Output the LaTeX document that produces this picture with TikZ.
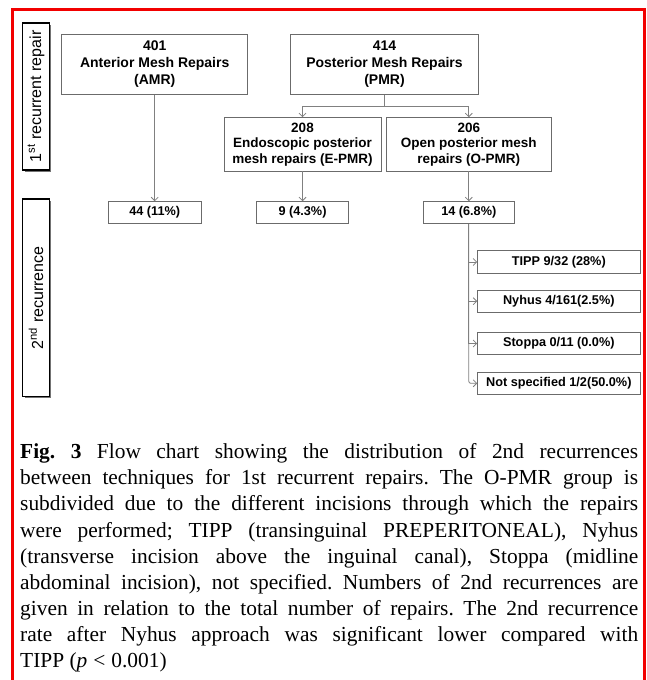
\documentclass[tikz,border=0pt]{standalone}
\usepackage{fontspec}
\usepackage{graphicx}
\setmainfont{Liberation Serif}
\newfontfamily\arialf{Liberation Sans}
\usetikzlibrary{arrows.meta,shadows}
\definecolor{boxc}{gray}{0.42}
\definecolor{linec}{gray}{0.5}
\definecolor{framered}{rgb}{0.95,0,0}
\tikzset{
  fbox/.style={draw=boxc, line width=0.9pt, fill=white, align=center, inner sep=0pt,
    font=\arialf\bfseries\fontsize{14}{16.7}\selectfont},
  subbox/.style={fbox, font=\arialf\bfseries\fontsize{13.5}{15.5}\selectfont},
  numbox/.style={fbox, font=\arialf\bfseries\fontsize{12.7}{15}\selectfont},
  sidebox/.style={draw=black, line width=1.3pt, fill=white, inner sep=0pt,
    font=\arialf\fontsize{16}{19}\selectfont,
    drop shadow={shadow xshift=1.8pt, shadow yshift=-1.8pt, fill=black!55, opacity=1}},
  conn/.style={draw=linec, line width=0.8pt, -{Straight Barb[length=3.5pt,width=7pt]}},
  plain/.style={draw=linec, line width=0.8pt},
}
\begin{document}
\begin{tikzpicture}[x=1pt,y=-1pt]
\useasboundingbox (0,0) rectangle (646,680);
\fill[white] (0,0) rectangle (646,680);
% red frame
\draw[framered, line width=2.6pt] (12.5,700) -- (12.5,9.5) -- (644.5,9.5) -- (644.5,700);

% side labels
\node[sidebox, minimum width=26.6pt, minimum height=147pt] (side1) at (36,96.5)
  {\rotatebox{90}{1\textsuperscript{st} recurrent repair}};
\node[sidebox, minimum width=26.6pt, minimum height=197.7pt] (side2) at (36,297.8)
  {\rotatebox{90}{2\textsuperscript{nd} recurrence}};

% first level
\node[fbox, minimum width=186pt, minimum height=59.7pt] (amr) at (154.7,64.2)
  {401\\Anterior Mesh Repairs\\(AMR)};
\node[fbox, minimum width=187.6pt, minimum height=59.7pt] (pmr) at (384.5,64.2)
  {414\\Posterior Mesh Repairs\\(PMR)};

% second level
\node[subbox, minimum width=157pt, minimum height=53.3pt] (epmr) at (302.5,144.3)
  {208\\Endoscopic posterior\\mesh repairs (E-PMR)};
\node[subbox, minimum width=165.7pt, minimum height=53.3pt] (opmr) at (468.8,144.3)
  {206\\Open posterior mesh\\repairs (O-PMR)};

% recurrences
\node[numbox, minimum width=92.7pt, minimum height=21.6pt] (n44) at (154.7,212.5) {44 (11\%)};
\node[numbox, minimum width=91.6pt, minimum height=21.6pt] (n9) at (302.5,212.5) {9 (4.3\%)};
\node[numbox, minimum width=91.6pt, minimum height=21.6pt] (n14) at (468.8,212.5) {14 (6.8\%)};

% O-PMR subgroups
\node[numbox, minimum width=162.3pt, minimum height=22.3pt] (tipp) at (558.8,262) {TIPP 9/32 (28\%)};
\node[numbox, minimum width=162.3pt, minimum height=21.5pt] (nyhus) at (558.8,301.2) {Nyhus 4/161(2.5\%)};
\node[numbox, minimum width=162.3pt, minimum height=21.6pt] (stoppa) at (558.8,343.5) {Stoppa 0/11 (0.0\%)};
\node[numbox, minimum width=162.3pt, minimum height=21.4pt] (notspec) at (558.8,383.3) {Not specified 1/2(50.0\%)};

% connectors
\coordinate (j) at (384.5,106.7);
\draw[plain] (pmr.south) -- (j);
\draw[conn] (j) -| (epmr.north);
\draw[conn] (j) -| (opmr.north);
\draw[conn] (amr.south) -- (n44.north);
\draw[conn] (epmr.south) -- (n9.north);
\draw[conn] (opmr.south) -- (n14.north);
\draw[conn] (n14.south) |- (tipp.west);
\draw[conn] (n14.south) |- (nyhus.west);
\draw[conn] (n14.south) |- (stoppa.west);
\draw[conn, rounded corners=2pt] (n14.south) |- (notspec.west);

% caption
\node[anchor=north west, text width=618pt, inner sep=0pt, align=justify,
      font=\fontsize{21.4}{26.1}\selectfont] (cap) at (20,443.5)
{\frenchspacing\hyphenpenalty=10000\relax\emergencystretch=30pt\relax
\textbf{Fig.~3} Flow chart showing the distribution of 2nd recurrences\linebreak
between techniques for 1st recurrent repairs. The O-PMR group is\linebreak
subdivided due to the different incisions through which the repairs\linebreak
were performed; TIPP (transinguinal PREPERITONEAL), Nyhus\linebreak
(transverse incision above the inguinal canal), Stoppa (midline\linebreak
abdominal incision), not specified. Numbers of 2nd recurrences are\linebreak
given in relation to the total number of repairs. The 2nd recurrence\linebreak
rate after Nyhus approach was significant lower compared with\linebreak
TIPP (\textit{p}\hspace{0.28em}<\hspace{0.28em}0.001)\par};
\end{tikzpicture}
\end{document}
